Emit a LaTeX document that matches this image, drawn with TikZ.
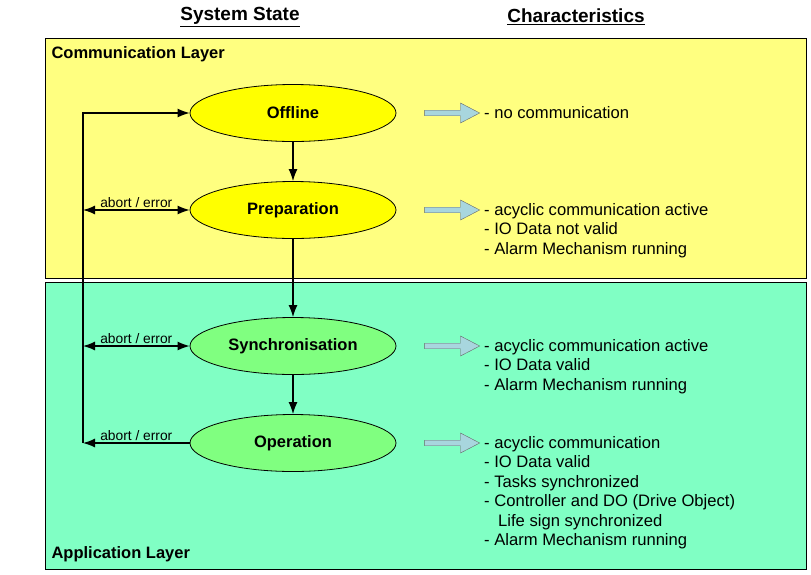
\documentclass[tikz,border=0pt]{standalone}
\usepackage{fontspec}
\setmainfont{Liberation Sans}
\usetikzlibrary{arrows.meta,shapes.geometric,shapes.arrows,positioning}

\definecolor{commyellow}{RGB}{255,255,128}
\definecolor{appgreen}{RGB}{128,255,196}
\definecolor{stateyellow}{RGB}{255,255,0}
\definecolor{stategreen}{RGB}{128,255,128}
\definecolor{arrowblue}{RGB}{168,214,222}

\begin{document}
\begin{tikzpicture}[x=1pt,y=-1pt,
   layer/.style={draw,line width=0.8pt,anchor=north west,minimum width=761pt},
   state/.style={draw,ellipse,line width=0.8pt,minimum width=206pt,minimum height=57pt,
                 font=\bfseries\fontsize{16.5}{18}\selectfont},
   conn/.style={line width=1.3pt,-{Latex[length=12pt,width=9pt]}},
   bothconn/.style={line width=1.3pt,{Latex[length=12pt,width=9pt]}-{Latex[length=12pt,width=9pt]}},
   blockarrow/.style={draw=black!60,fill=arrowblue,single arrow,minimum height=55pt,
                 minimum width=20pt,inner sep=2.5pt,single arrow head extend=7pt,
                 single arrow tip angle=55},
   chars/.style={anchor=north west,inner sep=0pt,align=left,
                 font=\fontsize{16.6}{19.5}\selectfont},
   errlabel/.style={above,inner sep=2pt,font=\fontsize{13.8}{15}\selectfont},
   heading/.style={font=\bfseries\fontsize{19}{22}\selectfont}]
\useasboundingbox (0,0) rectangle (811,574);

% headings
\node[heading] (hstate) at (240,17) {\underline{System State}};
\node[heading] (hchar) at (576,17) {\underline{Characteristics}};

% layers
\node[layer,fill=commyellow,minimum height=240pt] (comm) at (45,38) {};
\node[layer,fill=appgreen,minimum height=287pt] (app) at (45,282) {};
\node[anchor=west,font=\bfseries\fontsize{16.5}{18}\selectfont] (commlbl) at (48,54) {Communication Layer};
\node[anchor=west,font=\bfseries\fontsize{16.5}{18}\selectfont] (applbl) at (48,554) {Application Layer};

% states
\node[state,fill=stateyellow] (off) at (293,113) {Offline};
\node[state,fill=stateyellow] (prep) at (293,210) {Preparation};
\node[state,fill=stategreen] (sync) at (293,346) {Synchronisation};
\node[state,fill=stategreen] (op) at (293,443) {Operation};

\draw[conn] (off) -- (prep);
\draw[conn] (prep) -- (sync);
\draw[conn] (sync) -- (op);

% abort / error return path
\coordinate (ret) at (83,113);
\draw[conn] (op.west) -- (op.west -| ret) node[errlabel,midway] {abort / error};
\draw[conn] (op.west -| ret) -- (ret) -- (off.west);
\draw[bothconn] (prep.west -| ret) -- (prep.west) node[errlabel,midway] {abort / error};
\draw[bothconn] (sync.west -| ret) -- (sync.west) node[errlabel,midway] {abort / error};

% characteristics
\node[blockarrow] (a1) at (449.5,113) {};
\node[blockarrow] (a2) at (449.5,210) {};
\node[blockarrow] (a3) at (449.5,346) {};
\node[blockarrow] (a4) at (449.5,443) {};

\node[chars] (c1) at (484,106) {- no communication};
\node[chars] (c2) at (484,203) {- acyclic communication active\\- IO Data not valid\\- Alarm Mechanism running};
\node[chars] (c3) at (484,339) {- acyclic communication active\\- IO Data valid\\- Alarm Mechanism running};
\node[chars] (c4) at (484,436) {- acyclic communication\\- IO Data valid\\- Tasks synchronized\\- Controller and DO (Drive Object)\\\hspace*{14pt}Life sign synchronized\\- Alarm Mechanism running};
\end{tikzpicture}
\end{document}
